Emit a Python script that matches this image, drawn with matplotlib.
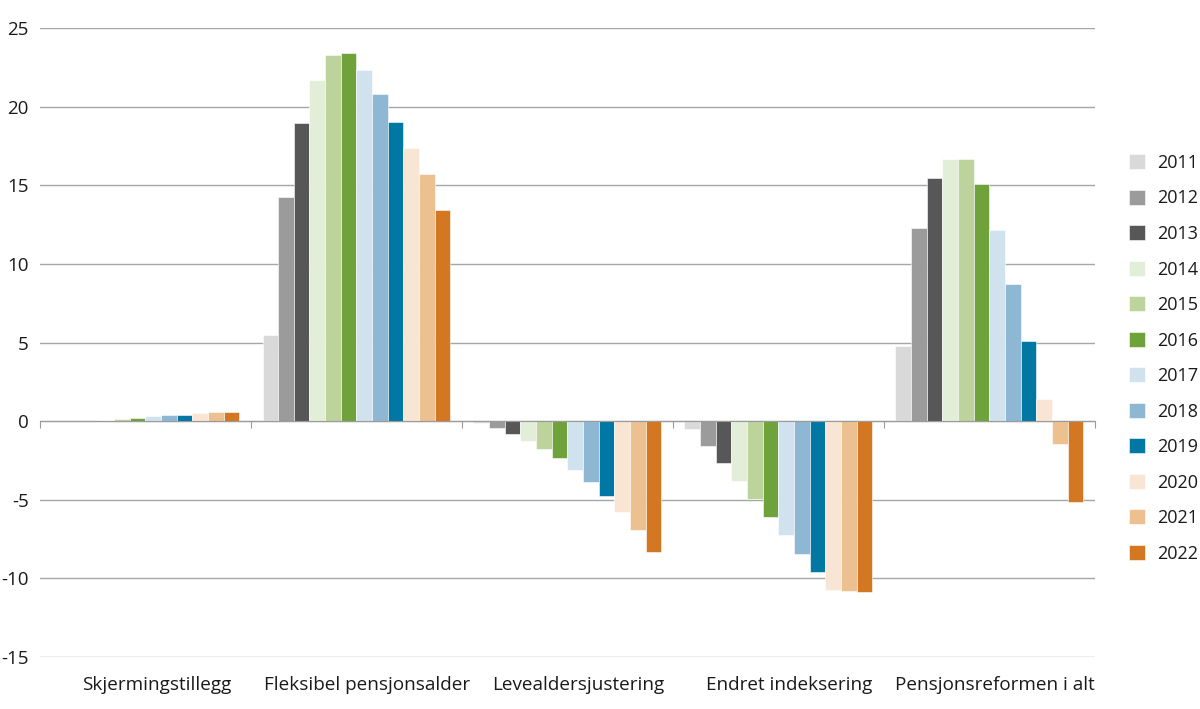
import numpy as np
import matplotlib.pyplot as plt
from matplotlib.transforms import blended_transform_factory

plt.rcParams['font.family'] = ['Open Sans', 'DejaVu Sans']
plt.rcParams['axes.unicode_minus'] = False

categories = ['Skjermingstillegg', 'Fleksibel pensjonsalder', 'Levealdersjustering',
              'Endret indeksering', 'Pensjonsreformen i alt']
years = ['2011', '2012', '2013', '2014', '2015', '2016',
         '2017', '2018', '2019', '2020', '2021', '2022']

# one list per category, values for 2011..2022
skjerming = [0.0, 0.04, 0.04, 0.06, 0.13, 0.21, 0.30, 0.36, 0.42, 0.49, 0.55, 0.55]
fleksibel = [5.5, 14.25, 18.95, 21.7, 23.3, 23.4, 22.3, 20.8, 19.05, 17.4, 15.7, 13.45]
levealder = [-0.12, -0.42, -0.79, -1.25, -1.76, -2.37, -3.12, -3.88, -4.75, -5.79, -6.91, -8.31]
indeksering = [-0.51, -1.59, -2.65, -3.79, -4.96, -6.1, -7.27, -8.44, -9.62, -10.74, -10.8, -10.84]
i_alt = [4.81, 12.26, 15.46, 16.7, 16.7, 15.06, 12.15, 8.75, 5.1, 1.39, -1.43, -5.13]

colors = ['#d9d9d9', '#9b9b9b', '#575757', '#e3eed8', '#bcd39b', '#6fa23b',
          '#d1e2ef', '#8db7d3', '#0078a3', '#f8e5d3', '#ecc08f', '#d47722']

data = np.array([skjerming, fleksibel, levealder, indeksering, i_alt])

fig = plt.figure(figsize=(12, 7.09), dpi=100)
ax = fig.add_axes([0.0333, 0.0733, 0.879, 0.8872])

n = len(years)
group = 0.89
w = group / n
x = np.arange(len(categories))
for j in range(n):
    ax.bar(x - group / 2 + w * (j + 0.5), data[:, j], width=w, color=colors[j],
           edgecolor='white', linewidth=0.4, label=years[j], zorder=3)

ax.set_xlim(-0.5, len(categories) - 0.5)
ax.set_ylim(-15, 25)
ax.set_yticks(np.arange(-15, 26, 5))
ax.yaxis.grid(True, color='#a6a6a6', linewidth=1)
ax.set_axisbelow(True)
ax.tick_params(axis='y', length=0, labelsize=13.5, pad=8, colors='#1a1a1a')

for s in ['left', 'right', 'top']:
    ax.spines[s].set_visible(False)
ax.spines['bottom'].set_position(('data', 0))
ax.spines['bottom'].set_color('#9a9a9a')
ax.spines['bottom'].set_zorder(4)
ax.set_xticks(np.arange(-0.5, len(categories), 1.0))
ax.set_xticklabels([])
ax.tick_params(axis='x', direction='out', length=5, color='#9a9a9a')

# labels sit a little right of the group centres in the original
trans = blended_transform_factory(ax.transData, ax.transAxes)
for i, c in enumerate(categories):
    ax.annotate(c, xy=(i, 0), xycoords=trans, xytext=(8 if i < 4 else 4, -20),
                textcoords='offset points', ha='center', va='center',
                fontsize=13.6, color='#1a1a1a')

fig.legend(loc='upper left', bbox_to_anchor=(0.935, 0.793), frameon=False,
           fontsize=13, handlelength=0.85, handleheight=0.9, handletextpad=0.7,
           labelspacing=0.97, borderaxespad=0, labelcolor='#1a1a1a')

fig.savefig('out.png', dpi=100)
